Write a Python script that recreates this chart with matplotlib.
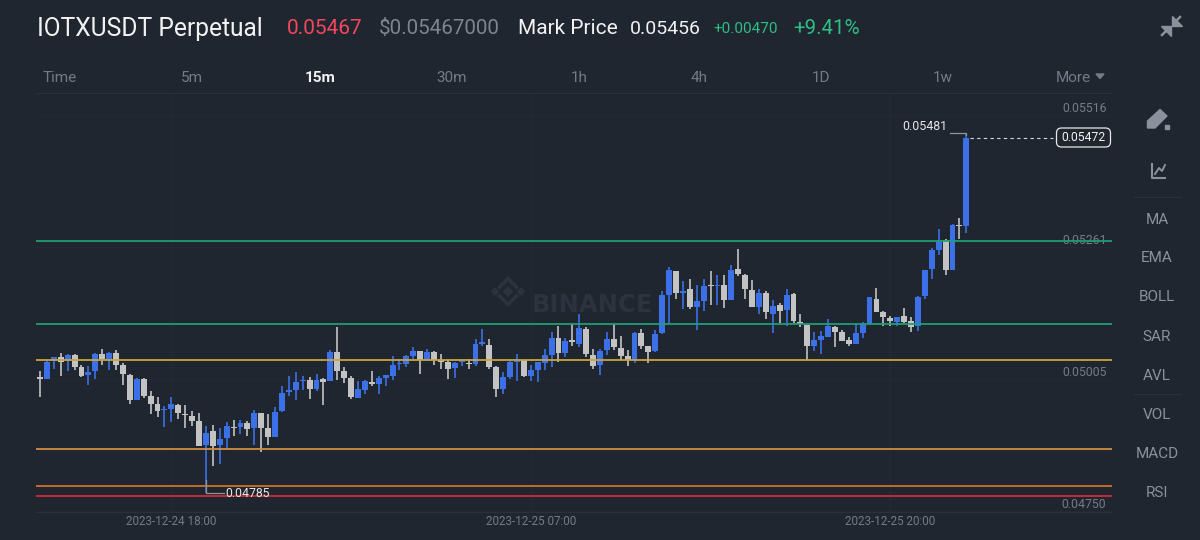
import matplotlib
matplotlib.use('Agg')
import matplotlib.pyplot as plt
from matplotlib.patches import FancyBboxPatch, Polygon
import numpy as np

plt.rcParams['font.family'] = ['Roboto', 'DejaVu Sans']

# prices in 0.00001 steps, 15m candles
opens = [5009, 5005, 5041, 5047, 5041, 5051, 5028, 5013, 5020, 5054,
         5043, 5055, 5033, 5014, 4964, 5005, 4973, 4958, 4945, 4947,
         4956, 4937, 4934, 4924, 4877, 4904, 4877, 4891, 4913, 4913,
         4920, 4910, 4940, 4910, 4893, 4943, 4980, 4984, 5001, 5003,
         4987, 5005, 5001, 5058, 5020, 5007, 4969, 4985, 4999, 4995,
         5007, 5012, 5034, 5034, 5050, 5060, 5043, 5058, 5042, 5038,
         5026, 5038, 5037, 5034, 5074, 5072, 5029, 4986, 5010, 5038,
         5042, 5012, 5023, 5037, 5052, 5085, 5056, 5080, 5074, 5103,
         5052, 5032, 5061, 5082, 5066, 5050, 5042, 5094, 5069, 5060,
         5094, 5168, 5215, 5172, 5179, 5145, 5157, 5187, 5185, 5187,
         5159, 5219, 5207, 5177, 5145, 5172, 5132, 5148, 5138, 5170,
         5116, 5110, 5070, 5081, 5086, 5105, 5096, 5081, 5074, 5095,
         5112, 5161, 5134, 5124, 5115, 5127, 5117, 5107, 5165, 5219,
         5255, 5275, 5217, 5303, 5301]
closes = [5006, 5039, 5047, 5038, 5051, 5029, 5011, 5019, 5054, 5044,
          5056, 5032, 5015, 4965, 5005, 4973, 4957, 4944, 4948, 4958,
          4939, 4935, 4925, 4876, 4901, 4876, 4889, 4914, 4911, 4920,
          4909, 4940, 4911, 4893, 4942, 4978, 4984, 4999, 5004, 4987,
          5004, 5000, 5058, 5020, 5007, 4970, 4986, 5001, 4996, 5008,
          5014, 5033, 5036, 5050, 5059, 5043, 5058, 5042, 5038, 5025,
          5036, 5040, 5034, 5074, 5076, 5028, 4987, 5010, 5038, 5040,
          5012, 5023, 5039, 5051, 5084, 5056, 5078, 5077, 5104, 5053,
          5031, 5060, 5082, 5067, 5050, 5042, 5095, 5069, 5058, 5092,
          5167, 5217, 5171, 5176, 5144, 5156, 5186, 5185, 5187, 5159,
          5217, 5209, 5179, 5145, 5172, 5134, 5146, 5136, 5168, 5117,
          5112, 5070, 5081, 5089, 5108, 5096, 5079, 5074, 5095, 5112,
          5163, 5134, 5125, 5118, 5125, 5116, 5105, 5164, 5216, 5254,
          5272, 5217, 5304, 5301, 5472]
highs = [5020, 5042, 5047, 5055, 5054, 5053, 5033, 5031, 5055, 5063,
         5058, 5061, 5037, 5016, 5008, 5007, 4982, 4971, 4953, 4970,
         4958, 4955, 4944, 4940, 4915, 4917, 4910, 4922, 4926, 4927,
         4924, 4945, 4940, 4938, 4951, 4991, 5011, 5018, 5012, 5009,
         5015, 5008, 5061, 5105, 5028, 5012, 5002, 5003, 5020, 5011,
         5014, 5050, 5045, 5052, 5067, 5060, 5064, 5059, 5054, 5042,
         5039, 5045, 5045, 5082, 5103, 5082, 5030, 5019, 5041, 5054,
         5042, 5032, 5039, 5063, 5097, 5108, 5084, 5112, 5131, 5105,
         5064, 5063, 5096, 5112, 5089, 5061, 5096, 5103, 5069, 5100,
         5176, 5221, 5215, 5195, 5199, 5187, 5199, 5214, 5206, 5206,
         5225, 5256, 5208, 5196, 5179, 5175, 5158, 5153, 5179, 5172,
         5131, 5110, 5096, 5099, 5121, 5108, 5101, 5086, 5112, 5116,
         5163, 5181, 5136, 5127, 5125, 5143, 5125, 5165, 5216, 5258,
         5295, 5277, 5306, 5316, 5481]
lows = [4971, 5005, 5025, 5012, 5020, 5023, 5010, 4994, 5005, 5032,
        5023, 5023, 4993, 4957, 4964, 4969, 4938, 4931, 4913, 4922,
        4929, 4911, 4915, 4875, 4785, 4837, 4841, 4871, 4895, 4900,
        4895, 4878, 4865, 4878, 4893, 4942, 4972, 4965, 4984, 4967,
        4982, 4955, 5001, 5003, 4998, 4967, 4969, 4976, 4992, 4976,
        4992, 5003, 5023, 5028, 5045, 5016, 5041, 5032, 5024, 5005,
        5007, 5031, 5024, 5031, 5069, 5025, 4970, 4976, 5005, 5002,
        5009, 5001, 5000, 5022, 5028, 5039, 5047, 5069, 5068, 5047,
        5025, 5013, 5052, 5061, 5043, 5031, 5037, 5063, 5037, 5057,
        5092, 5112, 5160, 5141, 5141, 5101, 5136, 5148, 5148, 5143,
        5159, 5205, 5160, 5144, 5132, 5121, 5095, 5113, 5108, 5113,
        5105, 5043, 5060, 5053, 5086, 5068, 5079, 5069, 5074, 5085,
        5112, 5134, 5108, 5108, 5107, 5113, 5097, 5099, 5161, 5199,
        5245, 5207, 5217, 5277, 5288]

level_prices = [0.05272, 0.05112, 0.05042, 0.04870, 0.04799, 0.04779]
level_colors = ['#1f9d74', '#1f9d74', '#c9a53a', '#d08c45', '#d2722a', '#d02c32']

price_ticks = [0.05516, 0.05261, 0.05005, 0.04750]
time_tick_idx = [19, 71, 123]
time_labels = ['2023-12-24 18:00', '2023-12-25 07:00', '2023-12-25 20:00']

tabs = ['Time', '5m', '15m', '30m', '1h', '4h', '1D', '1w', 'More']
tab_x = [60, 192, 320, 452, 579, 699, 821, 943, 1073]
side_items = ['MA', 'EMA', 'BOLL', 'SAR', 'AVL', 'VOL', 'MACD', 'RSI']
side_y = [220, 258, 297, 337, 376, 415, 454, 493]

BG = '#1f2630'
BLUE = '#3b70e6'
GREY = '#c3c3c3'
DIM = '#737b87'
GRID = '#252b36'
MARK = '#2d333e'

o = np.array(opens) / 1e5
c = np.array(closes) / 1e5
h = np.array(highs) / 1e5
l = np.array(lows) / 1e5
idx = np.arange(len(o))
up = c >= o
colors = [BLUE if u else GREY for u in up]

fig = plt.figure(figsize=(12, 5.4), dpi=100, facecolor=BG)

# chart area, 36..1112 px across and 93..512 px down
ax = fig.add_axes([36 / 1200, 1 - 512 / 540, 1076 / 1200, 419 / 540], facecolor=BG)
ax.set_xlim(-0.579, 155.07)
ax.set_ylim(0.047483, 0.055583)
for s in ax.spines.values():
    s.set_visible(False)
ax.spines['bottom'].set_visible(True)
ax.spines['bottom'].set_color('#2b313c')

ax.set_yticks(price_ticks)
ax.set_yticklabels(['%.5f' % p for p in price_ticks], va='bottom', ha='right')
ax.yaxis.tick_right()
ax.tick_params(axis='y', length=0, pad=-4, labelsize=8.8, labelcolor=DIM)
ax.set_xticks(time_tick_idx)
ax.set_xticklabels(time_labels)
ax.tick_params(axis='x', length=0, pad=2, labelsize=8.4, labelcolor=DIM)
ax.grid(True, color=GRID, lw=0.7)
ax.set_axisbelow(True)

ax.text(79.9, 0.05149, 'BINANCE', color=MARK, fontsize=17.5, fontweight='bold',
        ha='center', va='center', family=['DejaVu Sans'], zorder=1)

for p, col in zip(level_prices, level_colors):
    ax.axhline(p, color=col, lw=1.3, zorder=4)

ax.vlines(idx, l, h, colors=colors, lw=1.2, zorder=2)
ax.bar(idx, c - o, bottom=o, width=0.85, color=colors, lw=0, zorder=3)

# current price and extreme markers
ax.plot([idx[-1] + 0.6, 146.6], [0.05472, 0.05472], color='#d8d8d8', lw=0.8, ls=(0, (3, 3)))
ax.plot([131.7, idx[-1], idx[-1]], [0.05481, 0.05481, 0.05478], color='#8f949b', lw=0.9)
ax.text(131.3, 0.05481, '0.05481', color='#e6e6e6', fontsize=8.9, ha='right', va='bottom')
ax.plot([24, 24, 26.6], [0.04810, 0.04785, 0.04785], color='#8f949b', lw=0.9, zorder=5)
ax.text(26.8, 0.04785, '0.04785', color='#e6e6e6', fontsize=8.8, ha='left', va='center',
        zorder=6)

# page chrome in pixel coordinates
ui = fig.add_axes([0, 0, 1, 1], facecolor='none')
ui.set_xlim(0, 1200)
ui.set_ylim(540, 0)
ui.axis('off')

header = [(37, 'IOTXUSDT Perpetual', '#f2f2f2', 17.7),
          (287, '0.05467', '#f6465d', 15.0),
          (379, '$0.05467000', '#7d8590', 14.9),
          (518, 'Mark Price', '#f2f2f2', 15.0),
          (630, '0.05456', '#f2f2f2', 14.0),
          (713, '+0.00470', '#2ebd85', 11.0),
          (793, '+9.41%', '#2ebd85', 14.8)]
for x, txt, col, size in header:
    ui.text(x, 29, txt, color=col, fontsize=size, va='center', ha='left')

for x, txt in zip(tab_x, tabs):
    active = txt == '15m'
    ui.text(x, 78, txt, color='#f2f2f2' if active else DIM, fontsize=11,
            fontweight='bold' if active else 'normal', ha='center', va='center')
ui.add_patch(Polygon([(1096, 74), (1104, 74), (1100, 78.5)], color=DIM))
ui.plot([36, 1112], [92.5, 92.5], color='#2b313c', lw=0.8)

for y, txt in zip(side_y, side_items):
    ui.text(1157, y, txt, color='#8a919c', fontsize=11, ha='center', va='center')
ui.plot([1134, 1181], [197, 197], color='#2b313c', lw=0.8)
ui.plot([1134, 1181], [393.5, 393.5], color='#2b313c', lw=0.8)

ui.add_patch(FancyBboxPatch((1056.5, 128), 54, 19, boxstyle='round,pad=0,rounding_size=5',
                            fc=BG, ec='#e8e8e8', lw=0.9))
ui.text(1083.5, 137.8, '0.05472', color='#f2f2f2', fontsize=8.7, ha='center', va='center')

ICON = '#8a919c'
# collapse arrows
ui.add_patch(Polygon([(1172, 16), (1172, 26), (1182, 26)], color=ICON))
ui.plot([1176, 1180], [21, 17], color=ICON, lw=1.8)
ui.add_patch(Polygon([(1161, 26), (1171, 26), (1171, 36)], color=ICON))
ui.plot([1166, 1162], [31, 35], color=ICON, lw=1.8)
# pencil
ui.add_patch(Polygon([(1147.5, 128), (1147.5, 121), (1160, 109.5), (1167, 116), (1155, 128)],
                     color=ICON))
ui.add_patch(Polygon([(1165, 125), (1169, 125), (1169, 129), (1165, 129)], color=ICON))
# indicators icon
ui.plot([1151.5, 1151.5, 1165], [164, 177.5, 177.5], color=ICON, lw=1.5)
ui.plot([1155, 1159, 1162, 1165], [174, 168, 171, 165], color=ICON, lw=1.4)
# watermark logo
for cx, cy, r in [(508, 291.5, 4.5), (495, 291.5, 3.5), (521, 291.5, 3.5)]:
    ui.add_patch(Polygon([(cx - r, cy), (cx, cy - r), (cx + r, cy), (cx, cy + r)],
                         color=MARK, zorder=0))
ui.plot([499.5, 508, 516.5], [287, 278.5, 287], color=MARK, lw=2.6, zorder=0)
ui.plot([499.5, 508, 516.5], [296, 304.5, 296], color=MARK, lw=2.6, zorder=0)

fig.savefig('out.png', dpi=100, facecolor=BG)
